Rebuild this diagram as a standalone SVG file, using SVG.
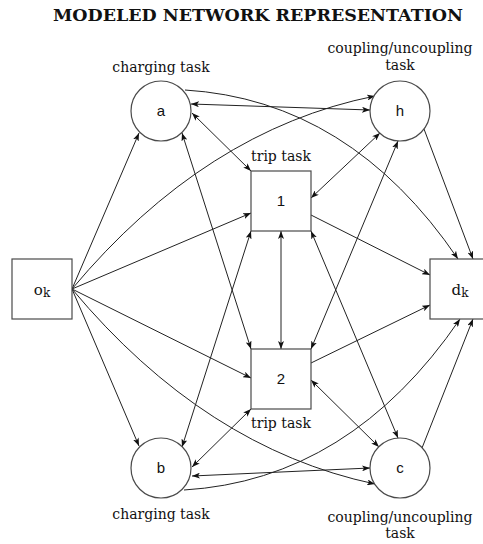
<svg xmlns="http://www.w3.org/2000/svg" width="483" height="544" viewBox="0 0 483 544">
<style>
.node{fill:#fff;stroke:#4a4a4a;stroke-width:1.2}
.edge{fill:none;stroke:#222;stroke-width:1}
.one{marker-end:url(#arr)}
.two{marker-end:url(#arr);marker-start:url(#arr)}
.lbl{font-family:"DejaVu Serif","Liberation Serif",serif;font-size:14px;fill:#111;text-anchor:middle}
.id{font-family:"Liberation Sans",Arial,sans-serif;font-size:15px;fill:#111;text-anchor:middle}
.sid{font-family:"DejaVu Serif","Liberation Serif",serif;font-size:15px;fill:#111;text-anchor:middle}
.title{font-family:"DejaVu Serif","Liberation Serif",serif;font-size:17.5px;font-weight:bold;fill:#111;text-anchor:middle}
</style>
<defs>
<marker id="arr" viewBox="0 0 8 6" refX="8" refY="3" markerWidth="8" markerHeight="6" markerUnits="userSpaceOnUse" orient="auto-start-reverse">
<path d="M0,0 L8,3 L0,6 L2,3 z" fill="#111"/>
</marker>
</defs>
<rect width="483" height="544" fill="#fff"/>
<text class="title" x="258" y="21" textLength="410" lengthAdjust="spacingAndGlyphs">MODELED NETWORK REPRESENTATION</text>

<g id="connectors">
<path class="edge one" d="M72,289 L139,133"/>
<path class="edge one" d="M72,289 Q205,130 375,96"/>
<path class="edge one" d="M72,289 L251,213"/>
<path class="edge one" d="M72,289 L251,378"/>
<path class="edge one" d="M72,289 L139,446"/>
<path class="edge one" d="M72,289 Q205,448 375,484"/>
<path class="edge two" d="M191,104 L370,110"/>
<path class="edge two" d="M192,113 L251,171"/>
<path class="edge two" d="M182,133 L251,349"/>
<path class="edge one" d="M185,90 Q350,100 458,259"/>
<path class="edge one" d="M424,129 L473,259"/>
<path class="edge two" d="M380,133 L311,198"/>
<path class="edge two" d="M398,141 L311,349"/>
<path class="edge one" d="M311,215 L430,275"/>
<path class="edge two" d="M281,231 L281,349"/>
<path class="edge two" d="M311,231 L398,438"/>
<path class="edge two" d="M182,447 L251,231"/>
<path class="edge one" d="M311,363 L430,305"/>
<path class="edge two" d="M251,409 L192,467"/>
<path class="edge two" d="M311,380 L379,447"/>
<path class="edge two" d="M192,476 L370,468"/>
<path class="edge one" d="M184,490 Q350,480 460,319"/>
<path class="edge one" d="M422,448 L473,319"/>
</g>

<g id="node-ok">
<rect class="node" x="12" y="259" width="60" height="60"/>
<text class="sid" x="42" y="295">o<tspan font-size="12" dy="2">k</tspan></text>
</g>
<g id="node-dk">
<rect class="node" x="430" y="259" width="60" height="60"/>
<text class="sid" x="460" y="295">d<tspan font-size="12" dy="2">k</tspan></text>
</g>
<g id="node-a">
<circle class="node" cx="161" cy="111" r="30"/>
<text class="id" x="161" y="116">a</text>
<text class="lbl" x="161" y="72">charging task</text>
</g>
<g id="node-h">
<circle class="node" cx="400" cy="111" r="30"/>
<text class="id" x="400" y="116">h</text>
<text class="lbl" x="400" y="53">coupling/uncoupling</text>
<text class="lbl" x="400" y="70">task</text>
</g>
<g id="node-1">
<rect class="node" x="251" y="171" width="60" height="60"/>
<text class="id" x="281" y="206">1</text>
<text class="lbl" x="281" y="161">trip task</text>
</g>
<g id="node-2">
<rect class="node" x="251" y="349" width="60" height="60"/>
<text class="id" x="281" y="384">2</text>
<text class="lbl" x="281" y="428">trip task</text>
</g>
<g id="node-b">
<circle class="node" cx="161" cy="468" r="30"/>
<text class="id" x="161" y="473">b</text>
<text class="lbl" x="161" y="519">charging task</text>
</g>
<g id="node-c">
<circle class="node" cx="400" cy="468" r="30"/>
<text class="id" x="400" y="473">c</text>
<text class="lbl" x="400" y="522">coupling/uncoupling</text>
<text class="lbl" x="400" y="538">task</text>
</g>
</svg>
